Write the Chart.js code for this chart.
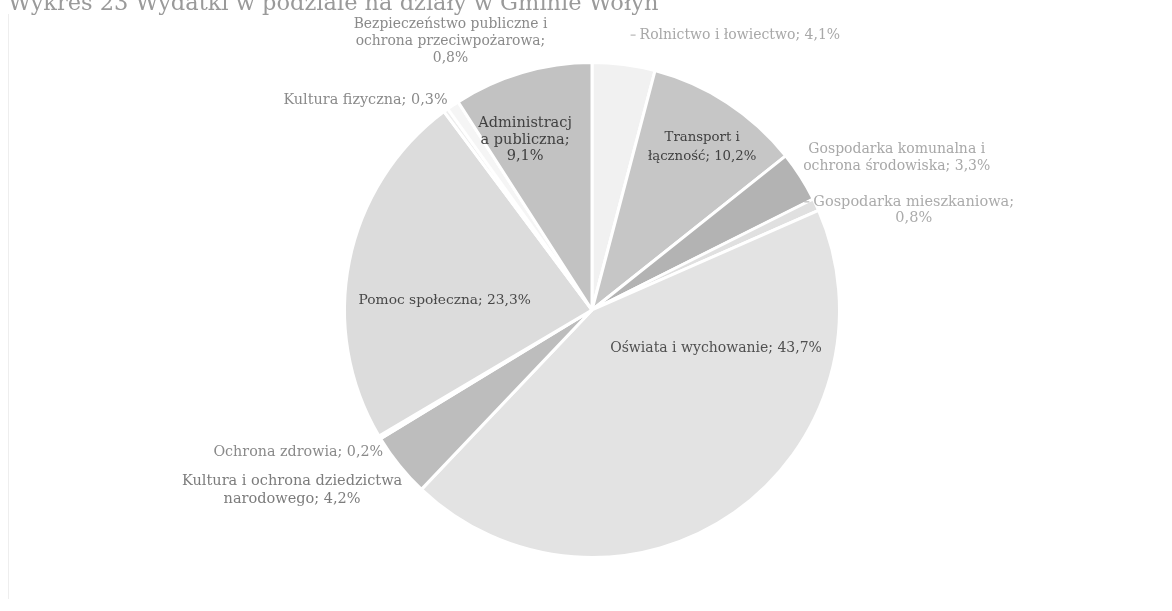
<!DOCTYPE html>
<html lang="pl">
<head>
<meta charset="utf-8">
<title>Wydatki w podziale na działy</title>
<script src="https://cdn.jsdelivr.net/npm/chart.js@4.4.1/dist/chart.umd.min.js"></script>
<style>
    html, body { margin: 0; padding: 0; background: #fff; }
    #wrap { position: relative; width: 1172px; height: 611px; }
    #wrap:before { content: ''; position: absolute; left: 8px; top: 14px; bottom: 12px; border-left: 1px solid #eeeeee; }
</style>
</head>
<body>
<div id="wrap"><canvas id="wydatkiChart" width="1172" height="611"></canvas></div>
<script>
const tytul = 'Wykres 23 Wydatki w podziale na działy w Gminie Wołyń';

// dzialy w kolejnosci zgodnej z ruchem wskazowek zegara, od godziny 12
const dzialy = [
    'Rolnictwo i łowiectwo',
    'Transport i łączność',
    'Gospodarka komunalna i ochrona środowiska',
    'Gospodarka mieszkaniowa',
    'Oświata i wychowanie',
    'Kultura i ochrona dziedzictwa narodowego',
    'Ochrona zdrowia',
    'Pomoc społeczna',
    'Kultura fizyczna',
    'Bezpieczeństwo publiczne i ochrona przeciwpożarowa',
    'Administracja publiczna'
];
const udzialy = [4.1, 10.2, 3.3, 0.8, 43.7, 4.2, 0.2, 23.3, 0.3, 0.8, 9.1];

const kolory = ['#f1f1f1', '#c6c6c6', '#b3b3b3', '#e0e0e0', '#e3e3e3', '#bdbdbd',
                '#eeeeee', '#dcdcdc', '#ededed', '#f5f5f5', '#c2c2c2'];

// rozmieszczenie etykiet: f = ulamek promienia na srodku wycinka, dx/dy = przesuniecie,
// w = szerokosc zawijania (liczba albo tekst, ktorego szerokosc ma byc granica)
const etykiety = [
    { f: 1.12,  dx: 12,  dy: 0,  align: 'left',   w: 400, size: 14,   color: '#a8a8a8', tick: true },
    { f: 0.785, dx: 4,   dy: 0,  align: 'center', w: 130, size: 13.3, color: '#404040', lh: 18.5 },
    { f: 1.14,  dx: 67,  dy: 0,  align: 'center', w: 205, size: 14,   color: '#a8a8a8' },
    { f: 0.95,  dx: 109, dy: 0,  align: 'center', w: 215, size: 14.5, color: '#ababab', tick: true, lh: 16 },
    { f: 0.19,  dx: 97,  dy: 0,  align: 'center', w: 400, size: 14,   color: '#505050' },
    { f: 1.162, dx: -76, dy: 0,  align: 'center', w: 240, size: 14.5, color: '#7c7c7c', lh: 18 },
    { f: 1.12,  dx: -56, dy: 0,  align: 'center', w: 400, size: 14.3, color: '#8a8a8a' },
    { f: 0.607, dx: 0,   dy: 20, align: 'center', w: 400, size: 13.8, color: '#484848' },
    { f: 1.05,  dx: 9,   dy: 0,  align: 'right',  w: 400, size: 14.4, color: '#8a8a8a' },
    { f: 1.312, dx: 41,  dy: 0,  align: 'center', w: 215, size: 13.9, color: '#8a8a8a' },
    { f: 0.715, dx: -17, dy: 0,  align: 'center', w: 'Administracj', size: 14.5, color: '#404040', lh: 16.5 }
];

function procent(v) {
    return v.toFixed(1).replace('.', ',') + '%';
}

function zawin(ctx, text, maxW) {
    const lines = [];
    let cur = '';
    for (const word of text.split(' ')) {
        const t = cur ? cur + ' ' + word : word;
        if (ctx.measureText(t).width <= maxW) { cur = t; continue; }
        if (cur) lines.push(cur);
        cur = word;
        while (ctx.measureText(cur).width > maxW) {
            let n = cur.length - 1;
            while (n > 1 && ctx.measureText(cur.slice(0, n)).width > maxW) n--;
            lines.push(cur.slice(0, n));
            cur = cur.slice(n);
        }
    }
    if (cur) lines.push(cur);
    return lines;
}

const etykietyPlugin = {
    id: 'etykietyWycinkow',
    afterDatasetsDraw(chart) {
        const ctx = chart.ctx;
        const meta = chart.getDatasetMeta(0);
        ctx.save();
        ctx.textBaseline = 'middle';
        meta.data.forEach(function (arc, i) {
            const p = etykiety[i];
            const a = arc.getProps(['x', 'y', 'startAngle', 'endAngle', 'outerRadius'], true);
            const mid = (a.startAngle + a.endAngle) / 2;
            const ax = a.x + Math.cos(mid) * a.outerRadius * p.f + p.dx;
            const ay = a.y + Math.sin(mid) * a.outerRadius * p.f + p.dy;
            ctx.font = p.size + 'px "DejaVu Serif"';
            ctx.fillStyle = p.color;
            ctx.textAlign = p.align;
            const maxW = typeof p.w === 'string' ? ctx.measureText(p.w).width + 0.5 : p.w;
            const lines = zawin(ctx, dzialy[i] + '; ' + procent(udzialy[i]), maxW);
            const lh = p.lh || p.size * 1.2;
            lines.forEach(function (ln, k) {
                ctx.fillText(ln, ax, ay + (k - (lines.length - 1) / 2) * lh);
            });
            if (p.tick) {
                const w0 = ctx.measureText(lines[0]).width;
                const left = p.align === 'left' ? ax : p.align === 'center' ? ax - w0 / 2 : ax - w0;
                const ty = ay - (lines.length - 1) / 2 * lh;
                ctx.strokeStyle = p.color;
                ctx.lineWidth = 1;
                ctx.beginPath();
                ctx.moveTo(left - 9, ty);
                ctx.lineTo(left - 4, ty);
                ctx.stroke();
            }
        });
        // tytul, przyciety u gory jak na skanie
        ctx.font = '22.5px "DejaVu Serif"';
        ctx.fillStyle = '#9a9a9a';
        ctx.textAlign = 'left';
        ctx.textBaseline = 'alphabetic';
        ctx.fillText(tytul, 8, 10);
        ctx.restore();
    }
};

document.addEventListener('DOMContentLoaded', function () {
    new Chart(document.getElementById('wydatkiChart'), {
        type: 'pie',
        data: {
            labels: dzialy,
            datasets: [{
                data: udzialy,
                backgroundColor: kolory,
                borderColor: '#ffffff',
                borderWidth: 3
            }]
        },
        options: {
            responsive: false,
            animation: false,
            rotation: 0,
            layout: {
                padding: { left: 343, right: 331, top: 61, bottom: 52 }
            },
            plugins: {
                legend: { display: false },
                tooltip: { enabled: false },
                title: { display: false }
            }
        },
        plugins: [etykietyPlugin]
    });
});
</script>
</body>
</html>
